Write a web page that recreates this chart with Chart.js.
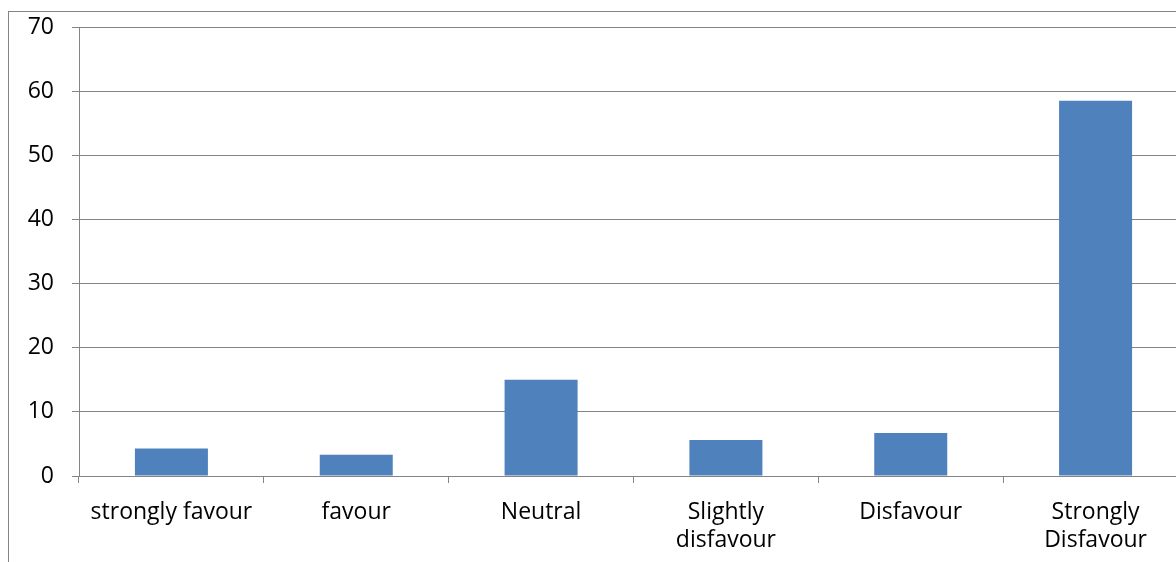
<!DOCTYPE html>
<html>
<head>
<meta charset="utf-8">
<title>Responses</title>
<script src="https://cdn.jsdelivr.net/npm/chart.js@4/dist/chart.umd.min.js"></script>
<style>
  html, body { margin: 0; padding: 0; background: #fff; overflow: hidden; }
  #wrap { position: relative; width: 1200px; height: 600px; }
</style>
</head>
<body>
<div id="wrap"><canvas id="chart" width="1200" height="600"></canvas></div>
<script>
// answer categories and percentages
const categories = [
  'strongly favour',
  'favour',
  'Neutral',
  ['Slightly', 'disfavour'],
  'Disfavour',
  ['Strongly', 'Disfavour']
];
const percentages = [4.3, 3.3, 15.0, 5.6, 6.7, 58.5];
const yTicks = [0, 10, 20, 30, 40, 50, 60, 70];

const gridGrey = '#848484';
const barBlue = '#4F81BD';
const labelFont = { family: '"Open Sans", sans-serif', size: 23, lineHeight: 1.22 };

// outer chart frame (only its left and top edges are inside the window)
const framePlugin = {
  id: 'frame',
  afterDraw(chart) {
    const ctx = chart.ctx;
    ctx.save();
    ctx.strokeStyle = gridGrey;
    ctx.lineWidth = 1;
    ctx.strokeRect(8.5, 11.5, 2000, 2000);
    ctx.restore();
  }
};

new Chart(document.getElementById('chart'), {
  type: 'bar',
  data: {
    labels: categories,
    datasets: [{
      data: percentages,
      backgroundColor: barBlue,
      categoryPercentage: 1,
      barPercentage: 0.395
    }]
  },
  options: {
    responsive: false,
    animation: false,
    layout: { padding: { top: 27, right: 12, left: 0, bottom: 0 } },
    plugins: { legend: { display: false }, tooltip: { enabled: false } },
    scales: {
      x: {
        offset: true,
        grid: { offset: true, drawOnChartArea: false, drawTicks: true, tickLength: 7, color: gridGrey },
        border: { display: true, color: gridGrey },
        ticks: { color: '#000', font: labelFont, padding: 15, maxRotation: 0, autoSkip: false },
        afterFit(scale) { scale.height = 124; }
      },
      y: {
        min: 0,
        max: 70,
        afterBuildTicks(scale) { scale.ticks = yTicks.map(v => ({ value: v })); },
        grid: { color: gridGrey, tickLength: 7 },
        border: { display: true, color: gridGrey },
        ticks: { color: '#000', font: labelFont, padding: 18 },
        afterFit(scale) {
          scale.width = 79;
          scale.paddingTop = 0;
          scale.paddingBottom = 0;
        }
      }
    }
  },
  plugins: [framePlugin]
});
</script>
</body>
</html>
